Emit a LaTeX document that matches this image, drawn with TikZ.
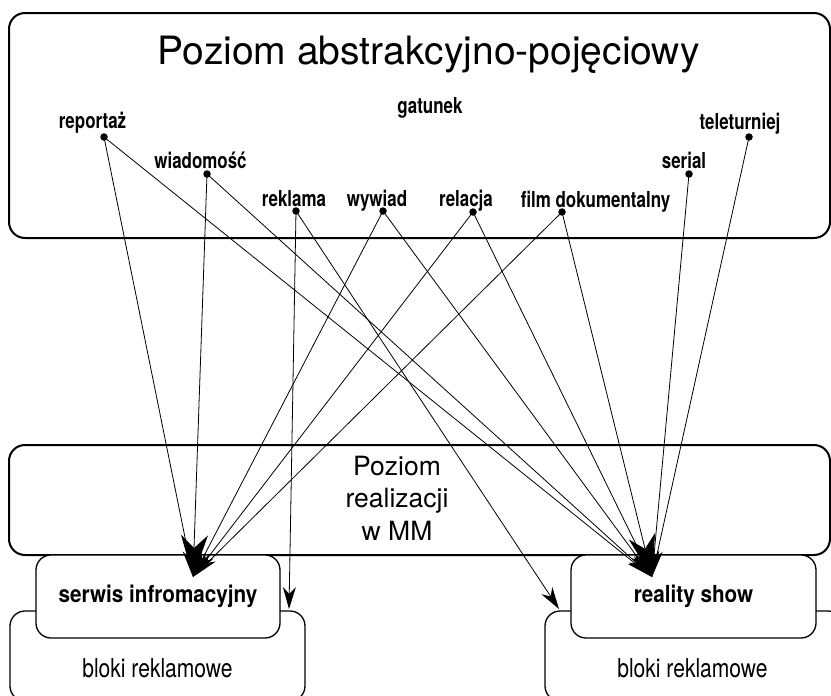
\documentclass[tikz,border=0pt]{standalone}
\usepackage{fontspec}
\setmainfont{TeX Gyre Heros}
\newfontfamily\labfont[FakeStretch=0.77]{TeX Gyre Heros}
\newfontfamily\boxfont[FakeStretch=0.88]{TeX Gyre Heros}
\newfontfamily\blokfont[FakeStretch=0.81]{TeX Gyre Heros}
\usetikzlibrary{arrows.meta}
\begin{document}
\begin{tikzpicture}[x=1pt,y=-1pt,
  lab/.style={font=\labfont\bfseries\fontsize{22}{24}\selectfont, anchor=base, inner sep=0pt},
  dotn/.style={circle, fill=black, inner sep=0pt, minimum size=7.5pt},
  bigframe/.style={draw, rounded corners=16pt, line width=2pt, inner sep=0pt},
  subbox/.style={draw, fill=white, rounded corners=15pt, line width=1.3pt, inner sep=0pt},
  link/.style={line width=0.8pt, -{Stealth[length=27pt,width=10pt,inset=7pt]}},
  mainlink/.style={line width=0.8pt, -{Stealth[length=42pt,width=27pt,inset=13pt]}},
  slink/.style={line width=0.8pt, -{Stealth[length=22pt,width=13pt,inset=7pt]}},
  midtext/.style={font=\fontsize{26.5}{30}\selectfont, anchor=base, inner sep=0pt}
]
\useasboundingbox (0,0) rectangle (831,696);
\clip (0,0) rectangle (831,696);

% frames
\node[bigframe, minimum width=821pt, minimum height=225pt] (top) at (419.5,125.5) {};
\node[bigframe, minimum width=821pt, minimum height=110pt] (mid) at (419.5,500) {};
\node[subbox, minimum width=295pt, minimum height=90pt] (blokL) at (157.5,656) {};
\node[subbox, minimum width=298pt, minimum height=90pt] (blokR) at (694,656) {};
\node[subbox, minimum width=244pt, minimum height=83pt,
      font=\boxfont\bfseries\fontsize{23.5}{26}\selectfont] (serwis) at (158,596.5) {serwis infromacyjny};
\node[subbox, minimum width=245pt, minimum height=83pt,
      font=\boxfont\bfseries\fontsize{23.5}{26}\selectfont] (reality) at (693.5,596.5) {reality show};

% texts
\node[anchor=base, inner sep=0pt, font=\fontsize{39}{44}\selectfont] (title) at (428.5,64) {Poziom abstrakcyjno-pojęciowy};
\node[midtext] (m1) at (397,475) {Poziom};
\node[midtext] (m2) at (397,507.5) {realizacji};
\node[midtext] (m3) at (397,540) {w MM};
\node[anchor=base, inner sep=0pt, font=\blokfont\fontsize{26}{28}\selectfont] (bL) at (157.5,677) {bloki reklamowe};
\node[anchor=base, inner sep=0pt, font=\blokfont\fontsize{26}{28}\selectfont] (bR) at (692.5,677) {bloki reklamowe};

% genre labels
\node[lab] (l-gat) at (430,113) {gatunek};
\node[lab] (l-rep) at (92.5,128) {reportaż};
\node[lab] (l-wia) at (200.5,168) {wiadomość};
\node[lab] (l-rek) at (294,206) {reklama};
\node[lab] (l-wyw) at (377,206) {wywiad};
\node[lab] (l-rel) at (466,206) {relacja};
\node[lab] (l-film) at (595.5,207) {film dokumentalny};
\node[lab] (l-ser) at (684,168) {serial};
\node[lab] (l-tel) at (740,129) {teleturniej};

% dots
\node[dotn] (d-rep) at (104,137) {};
\node[dotn] (d-wia) at (207,174) {};
\node[dotn] (d-rek) at (296,211) {};
\node[dotn] (d-wyw) at (383,211) {};
\node[dotn] (d-rel) at (473,212) {};
\node[dotn] (d-film) at (562,212) {};
\node[dotn] (d-ser) at (689,174) {};
\node[dotn] (d-tel) at (749,137) {};

% targets
\coordinate (T1) at (193,577);
\coordinate (T2) at (652,577);
\coordinate (TL) at (289,609);
\coordinate (TR) at (559,609);

% connectors
\foreach \s in {rep,wyw,rel,film}
  \draw[link] (d-\s.center) -- (T1);
\draw[mainlink] (d-wia.center) -- (T1);
\foreach \s in {rep,wia,wyw,rel,ser,tel}
  \draw[link] (d-\s.center) -- (T2);
\draw[mainlink] (d-film.center) -- (T2);
\draw[slink] (d-rek.center) -- (TL);
\draw[slink] (d-rek.center) -- (TR);
\end{tikzpicture}
\end{document}
